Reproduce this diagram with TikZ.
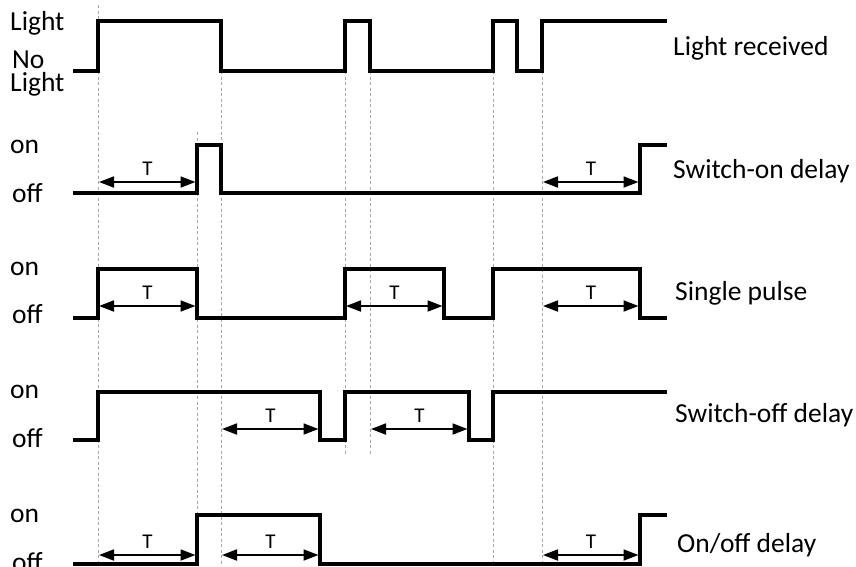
\documentclass[tikz,border=0pt]{standalone}
\usepackage{fontspec}
\setmainfont{Carlito}
\usetikzlibrary{arrows.meta}
\begin{document}
\begin{tikzpicture}[x=1pt,y=-1pt,
  sig/.style={line width=3.4pt,line join=miter,line cap=butt},
  dimline/.style={line width=1.8pt,{Triangle[length=15pt,width=11pt]}-{Triangle[length=15pt,width=11pt]}, shorten <=1pt, shorten >=1.5pt},
  guide/.style={gray!70,line width=0.8pt,dash pattern=on 3pt off 2.5pt},
  lab/.style={anchor=base west,inner sep=0pt,font=\fontsize{27.5}{27.5}\selectfont},
  tlab/.style={anchor=base,inner sep=0pt,font=\fontsize{21}{21}\selectfont}]
\clip (0,0) rectangle (856,566);
\fill[white] (0,0) rectangle (856,566);
% guide lines
\draw[guide] (98,5) -- (98,566);
\draw[guide] (197,132) -- (197,515);
\draw[guide] (221,71) -- (221,566);
\draw[guide] (345,71) -- (345,454);
\draw[guide] (370,71) -- (370,454);
\draw[guide] (493,71) -- (493,566);
\draw[guide] (542,71) -- (542,566);
% signals
\draw[sig] (73,71) -| (98,21) -| (221,71) -| (345,21) -| (370,71) -| (493,21) -| (517,71) -| (542,21) -- (667,21);
\draw[sig] (73,193) -| (197,145) -| (221,193) -| (640,145) -- (667,145);
\draw[sig] (73,318) -| (98,269) -| (197,318) -| (345,269) -| (444,318) -| (493,269) -| (640,318) -- (667,318);
\draw[sig] (73,440) -| (98,392) -| (320,440) -| (345,392) -| (469,440) -| (493,392) -- (667,392);
\draw[sig] (73,564) -| (197,515) -| (320,564) -| (640,515) -- (667,515);
% T intervals
\foreach \a/\b/\y in {98/197/182, 542/640/182,
                      98/197/306, 345/444/306, 542/640/306,
                      221/320/429, 370/469/429,
                      98/197/555, 221/320/555, 542/640/555}{
  \coordinate (s) at (\a,\y);
  \coordinate (e) at (\b,\y);
  \draw[dimline] (s) -- (e);
  \node[tlab] (t) at ({(\a+\b)/2},{\y-7}) {T};
}
% left labels
\node[lab] (l1) at (10,30) {Light};
\node[lab,text depth=0pt] (l2) at (12,68) {No};
\node[lab] (l3) at (10,91) {Light};
\node[lab] (on2) at (10,153) {on};
\node[lab] (off2) at (12,202) {off};
\node[lab] (on3) at (10,275) {on};
\node[lab] (off3) at (12,323) {off};
\node[lab] (on4) at (10,398) {on};
\node[lab] (off4) at (12,447) {off};
\node[lab] (on5) at (10,522) {on};
\node[lab] (off5) at (12,571) {off};
% right labels
\node[lab] (r1) at (673,55) {Light received};
\node[lab] (r2) at (673,178) {Switch-on delay};
\node[lab] (r3) at (675,300) {Single pulse};
\node[lab] (r4) at (675,422) {Switch-off delay};
\node[lab] (r5) at (677,552) {On/off delay};
\end{tikzpicture}
\end{document}
